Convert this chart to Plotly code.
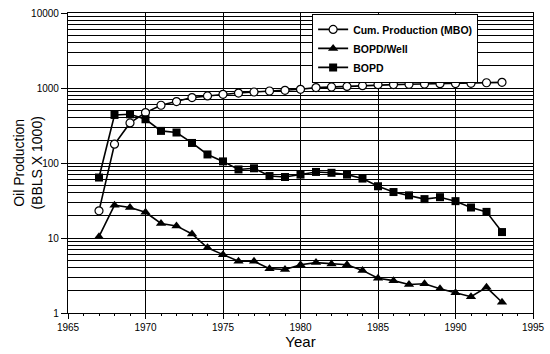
import plotly.graph_objects as go

years = list(range(1967, 1994))
cum_production = [23, 178, 342, 470, 589, 659, 745, 783, 824, 857, 885, 912, 931, 961,
                  1012, 1031, 1050, 1073, 1108, 1110, 1120, 1130, 1143, 1145, 1155, 1175, 1190]
bopd_per_well = [10.4, 27.4, 25.5, 22, 15.6, 14.5, 11.3, 7.4, 6.0, 4.9, 4.9, 3.9, 3.8, 4.4,
                 4.7, 4.5, 4.4, 3.7, 2.9, 2.7, 2.4, 2.45, 2.1, 1.86, 1.65, 2.2, 1.39]
bopd = [64, 437, 446, 383, 268, 255, 185, 130, 105, 82, 85, 67, 65, 70,
        76, 74, 70, 62, 49, 41, 37, 33, 35, 31, 25.5, 22.3, 12]

y_major = [1, 10, 100, 1000, 10000]
y_minor = [d * m for d in [1, 10, 100, 1000] for m in range(2, 10)]
x_major = list(range(1965, 1996, 5))

fig = go.Figure()
fig.add_trace(go.Scatter(x=years, y=cum_production, name="Cum. Production (MBO)",
                         mode="lines+markers",
                         line=dict(color="black", width=1.6),
                         marker=dict(symbol="circle", size=8, color="white",
                                     line=dict(color="black", width=1.2))))
fig.add_trace(go.Scatter(x=years, y=bopd_per_well, name="BOPD/Well",
                         mode="lines+markers",
                         line=dict(color="black", width=1.6),
                         marker=dict(symbol="triangle-up", size=9, color="black")))
fig.add_trace(go.Scatter(x=years, y=bopd, name="BOPD",
                         mode="lines+markers",
                         line=dict(color="black", width=1.6),
                         marker=dict(symbol="square", size=8, color="black")))

fig.update_layout(
    width=550, height=354,
    margin=dict(l=68, r=17, t=13, b=41),
    paper_bgcolor="white", plot_bgcolor="white",
    font=dict(family="Liberation Sans, Arial, sans-serif", color="black", size=10),
    showlegend=True,
    legend=dict(x=0.525, y=0.997, xanchor="left", yanchor="top",
                bgcolor="white", bordercolor="black", borderwidth=1,
                font=dict(size=10.5, family="Liberation Sans, Arial, sans-serif", weight="bold"),
                tracegroupgap=0, itemwidth=30, entrywidth=135, entrywidthmode="pixels"),
    xaxis=dict(range=[1965, 1995], tickvals=x_major, ticks="outside", ticklen=5,
               tickcolor="black", showgrid=True, gridcolor="black", gridwidth=1.2,
               showline=True, linecolor="black", linewidth=1.2, mirror=True,
               zeroline=False, automargin=False,
               minor=dict(dtick=1, ticks="outside", ticklen=2, tickcolor="black", showgrid=False),
               title=dict(text="Year", font=dict(size=15), standoff=2),
               tickfont=dict(size=10)),
    yaxis=dict(type="log", range=[0, 4], tickvals=y_major, ticktext=[str(v) for v in y_major],
               ticks="outside", ticklen=6, tickcolor="black", automargin=False,
               showgrid=True, gridcolor="black", gridwidth=1,
               showline=True, linecolor="black", linewidth=1.2, mirror=True,
               minor=dict(tickvals=y_minor, showgrid=True, gridcolor="black", gridwidth=1,
                          ticks=""),
               tickfont=dict(size=10)),
    annotations=[dict(text="Oil Production<br>(BBLS X 1000)", textangle=-90,
                      xref="paper", yref="paper", x=-0.087, y=0.5,
                      xanchor="center", yanchor="middle", showarrow=False,
                      font=dict(size=14))],
)

fig.write_html("out.html")
